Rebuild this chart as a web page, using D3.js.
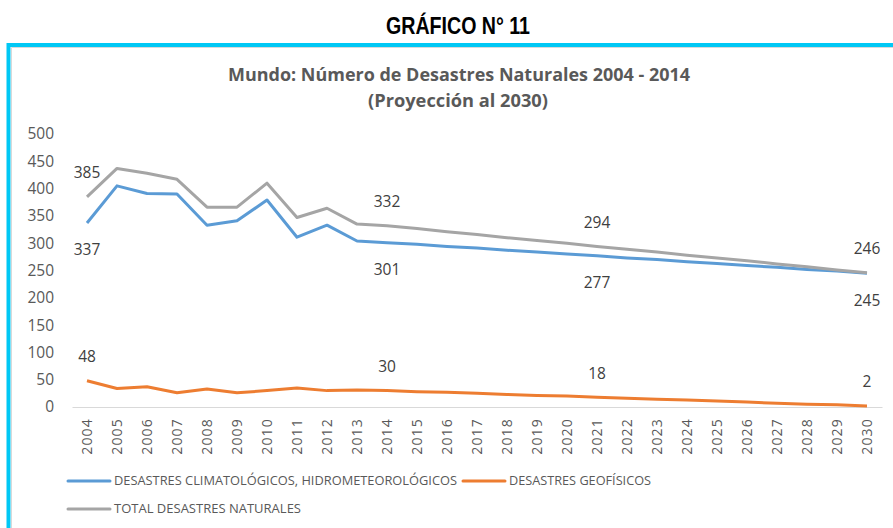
<!DOCTYPE html>
<html>
<head>
<meta charset="utf-8">
<script src="https://cdn.jsdelivr.net/npm/d3@7"></script>
<style>
  body { margin: 0; background: #fff; }
  svg { display: block; }
</style>
</head>
<body>
<svg></svg>
<script>
const width = 893;
const height = 528;

// years on the category axis
const years = d3.range(2004, 2031).map(String);

// series values
const climaticos = [337, 405, 391, 390, 333, 341, 379, 311, 333, 304, 301,
  298, 294, 291, 287, 284, 280, 277, 273, 270, 266, 263, 259, 256, 252, 249, 245];
const geofisicos = [48, 34, 37, 26, 33, 26, 30, 35, 30, 31, 30,
  28, 27, 25, 23, 21, 20, 18, 16, 14, 13, 11, 9, 7, 5, 4, 2];
const total = [385, 437, 428, 417, 366, 366, 410, 347, 364, 335, 332,
  327, 321, 316, 310, 305, 300, 294, 289, 284, 278, 273, 268, 262, 257, 251, 246];

const yTicks = [0, 50, 100, 150, 200, 250, 300, 350, 400, 450, 500];
// which years carry a data label
const labelYears = ["2004", "2014", "2021", "2030"];

const series = [
  {name: "DESASTRES CLIMATOLÓGICOS, HIDROMETEOROLÓGICOS", values: climaticos, color: "#5b9bd5", dy: 27},
  {name: "DESASTRES GEOFÍSICOS", values: geofisicos, color: "#ed7d31", dy: -24},
  {name: "TOTAL DESASTRES NATURALES", values: total, color: "#a5a5a5", dy: -24}
];

let svg = d3.select("svg").attr("width", width).attr("height", height);

// page heading (condensed bold)
svg.append("text")
  .attr("x", 458).attr("y", 34)
  .attr("text-anchor", "middle")
  .attr("font-family", "'Liberation Sans Narrow', 'Arial Narrow', 'Liberation Sans', sans-serif")
  .attr("font-weight", "bold")
  .attr("font-size", 23)
  .attr("fill", "#000")
  .attr("textLength", 144).attr("lengthAdjust", "spacingAndGlyphs")
  .text("GRÁFICO N° 11");

// cyan frame (runs off the right and bottom edges)
svg.append("path")
  .attr("d", "M8.5,528 V45 H893")
  .attr("fill", "none").attr("stroke", "#00c8f5").attr("stroke-width", 4);
svg.append("path")
  .attr("d", "M11.5,528 V47.5 H893")
  .attr("fill", "none").attr("stroke", "#d9d9d9").attr("stroke-width", 1);

// chart title
const titleFont = "'Open Sans', 'Liberation Sans', sans-serif";
svg.append("text")
  .attr("x", 459).attr("y", 81)
  .attr("text-anchor", "middle")
  .attr("font-family", titleFont).attr("font-weight", "bold")
  .attr("font-size", 17).attr("fill", "#595959")
  .attr("textLength", 462).attr("lengthAdjust", "spacingAndGlyphs")
  .text("Mundo: Número de Desastres Naturales 2004 - 2014");
svg.append("text")
  .attr("x", 458).attr("y", 107)
  .attr("text-anchor", "middle")
  .attr("font-family", titleFont).attr("font-weight", "bold")
  .attr("font-size", 17).attr("fill", "#595959")
  .attr("textLength", 180).attr("lengthAdjust", "spacingAndGlyphs")
  .text("(Proyección al 2030)");

// scales
let xScale = d3.scaleBand().domain(years).range([72, 882]);
let yScale = d3.scaleLinear().domain([0, 500]).range([407, 134]);
const cx = (d) => xScale(d) + xScale.bandwidth() / 2;

// y axis (labels only)
let yAxis = d3.axisLeft(yScale).tickValues(yTicks).tickSize(0).tickPadding(0);
let gy = svg.append("g").attr("transform", "translate(54,0)").call(yAxis);
gy.select(".domain").remove();
gy.selectAll("text")
  .attr("font-family", titleFont).attr("font-size", 15.5).attr("fill", "#595959");

// x axis baseline + rotated year labels
let xAxis = d3.axisBottom(xScale).tickSize(0).tickPadding(0);
let gx = svg.append("g").attr("transform", "translate(0,407)").call(xAxis);
gx.select(".domain").attr("stroke", "#d9d9d9").attr("stroke-width", 1);
gx.selectAll("text")
  .attr("font-family", titleFont).attr("font-size", 14).attr("fill", "#595959")
  .attr("letter-spacing", 1.2)
  .attr("text-anchor", "end")
  .attr("dy", null)
  .attr("transform", "translate(5,11) rotate(-90)");

// lines
let line = d3.line().x((d, i) => cx(years[i])).y((d) => yScale(d));
series.forEach((s) => {
  svg.append("path")
    .datum(s.values)
    .attr("fill", "none")
    .attr("stroke", s.color)
    .attr("stroke-width", 3)
    .attr("stroke-linejoin", "round")
    .attr("d", line);
});

// data labels
series.forEach((s) => {
  svg.append("g").selectAll("text")
    .data(labelYears)
    .join("text")
    .attr("x", (yr) => cx(yr))
    .attr("y", (yr) => yScale(s.values[years.indexOf(yr)]) + s.dy)
    .attr("dy", "0.35em")
    .attr("text-anchor", "middle")
    .attr("font-family", titleFont).attr("font-size", 15.5).attr("fill", "#404040")
    .text((yr) => s.values[years.indexOf(yr)]);
});

// legend
const legendPos = [
  {x: 68, y: 481, w: 343},
  {x: 463, y: 481, w: 142},
  {x: 68, y: 509, w: 187}
];
series.forEach((s, i) => {
  let p = legendPos[i];
  let g = svg.append("g").attr("transform", `translate(${p.x},${p.y})`);
  g.append("line").attr("x1", 0).attr("x2", 42).attr("y1", 0).attr("y2", 0)
    .attr("stroke", s.color).attr("stroke-width", 3).attr("stroke-linecap", "round");
  g.append("text").attr("x", 46).attr("y", 0).attr("dy", "0.35em")
    .attr("font-family", titleFont).attr("font-size", 12).attr("fill", "#595959")
    .attr("textLength", p.w).attr("lengthAdjust", "spacingAndGlyphs")
    .text(s.name);
});
</script>
</body>
</html>
